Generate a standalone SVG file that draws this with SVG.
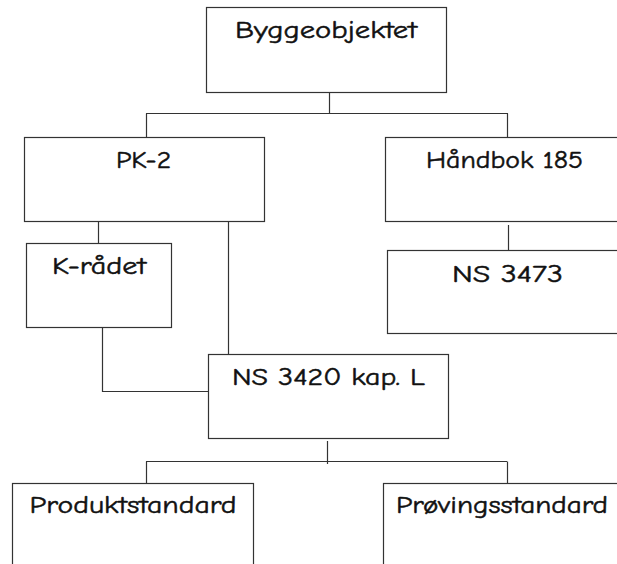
<svg xmlns="http://www.w3.org/2000/svg" width="617" height="564" viewBox="0 0 617 564">
  <style>
    .box { fill: #ffffff; stroke: #333333; stroke-width: 1.2; }
    .conn { fill: none; stroke: #333333; stroke-width: 1.2; }
    .lbl { font-family: "Comic Neue", "DejaVu Sans", "Liberation Sans", sans-serif; font-size: 25px; fill: #111111; stroke: #111111; stroke-width: 0.5; text-anchor: middle; }
  </style>
  <rect width="617" height="564" fill="#ffffff"/>

  <g id="connectors">
    <path class="conn" d="M329.5,92 V113.5"/>
    <path class="conn" d="M146,113.5 H508"/>
    <path class="conn" d="M146.5,113.5 V137"/>
    <path class="conn" d="M507.5,113.5 V137"/>
    <path class="conn" d="M98.5,221 V243"/>
    <path class="conn" d="M228.5,221 V354"/>
    <path class="conn" d="M102.5,327 V391.5 H208"/>
    <path class="conn" d="M508.5,225 V250"/>
    <path class="conn" d="M327.5,441 V464"/>
    <path class="conn" d="M146,461.5 H507"/>
    <path class="conn" d="M146.5,461.5 V483"/>
    <path class="conn" d="M507.5,461.5 V483"/>
  </g>

  <g id="byggeobjektet">
    <rect class="box" x="206.5" y="7.5" width="240" height="85"/>
    <text class="lbl" x="326" y="38" textLength="182" lengthAdjust="spacingAndGlyphs">Byggeobjektet</text>
  </g>

  <g id="pk2">
    <rect class="box" x="24.5" y="137.5" width="240" height="84"/>
    <text class="lbl" x="143.5" y="168" textLength="55" lengthAdjust="spacingAndGlyphs">PK-2</text>
  </g>

  <g id="handbok185">
    <rect class="box" x="385.5" y="137.5" width="240" height="84"/>
    <text class="lbl" x="504.5" y="168" textLength="157" lengthAdjust="spacingAndGlyphs">Håndbok 185</text>
  </g>

  <g id="k-radet">
    <rect class="box" x="26.5" y="243.5" width="145" height="84"/>
    <text class="lbl" x="99" y="274" textLength="94" lengthAdjust="spacingAndGlyphs">K-rådet</text>
  </g>

  <g id="ns3473">
    <rect class="box" x="387.5" y="250.5" width="240" height="83"/>
    <text class="lbl" x="507.5" y="282" textLength="111" lengthAdjust="spacingAndGlyphs">NS 3473</text>
  </g>

  <g id="ns3420">
    <rect class="box" x="208.5" y="354.5" width="240" height="84"/>
    <text class="lbl" x="328.5" y="385" textLength="193" lengthAdjust="spacingAndGlyphs">NS 3420 kap. L</text>
  </g>

  <g id="produktstandard">
    <rect class="box" x="12.5" y="483.5" width="241" height="100"/>
    <text class="lbl" x="133" y="513" textLength="207" lengthAdjust="spacingAndGlyphs">Produktstandard</text>
  </g>

  <g id="provingsstandard">
    <rect class="box" x="383.5" y="483.5" width="240" height="100"/>
    <text class="lbl" x="502" y="513" textLength="212" lengthAdjust="spacingAndGlyphs">Prøvingsstandard</text>
  </g>
</svg>
